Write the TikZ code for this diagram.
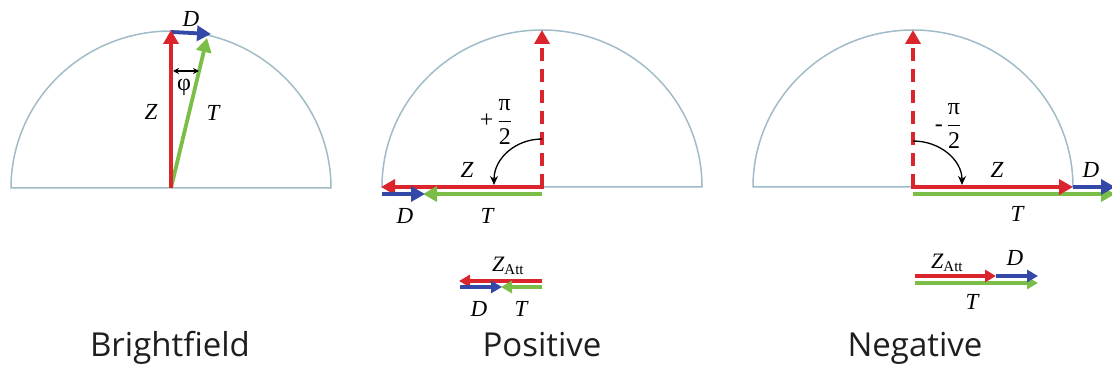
\documentclass[tikz,border=0pt]{standalone}
\usepackage{fontspec}
\usepackage{amsmath}
\setmainfont{Liberation Serif}
\newfontfamily\titlefont{Open Sans}
\usetikzlibrary{arrows.meta}
\definecolor{vred}{RGB}{218,37,45}
\definecolor{vgreen}{RGB}{122,190,72}
\definecolor{vblue}{RGB}{52,72,168}
\definecolor{circ}{RGB}{160,188,198}
\definecolor{ttl}{RGB}{30,30,30}
\newcommand{\pifrac}{\ensuremath{\dfrac{\text{\fontsize{24}{24}\selectfont π}}{\text{\fontsize{24}{24}\selectfont 2}}}}
\begin{document}
\begin{tikzpicture}[x=1pt,y=1pt,
 vec/.style={line width=3.8pt,-{Triangle[length=14pt,width=15pt]}},
 dvec/.style={vec,dash pattern=on 13pt off 8pt},
 svec/.style={line width=3.2pt,-{Triangle[length=11pt,width=12pt]}},
 circl/.style={draw=circ,line width=1.5pt},
 lab/.style={font=\fontsize{23}{23}\selectfont\itshape,inner sep=0pt},
 fr/.style={inner sep=0pt,font=\fontsize{24}{24}\selectfont},
 ttlstyle/.style={font=\titlefont\fontsize{33}{33}\selectfont,text=ttl,anchor=base,inner sep=0pt},
 rot/.style={black,line width=1.3pt,-{Stealth[length=9pt,width=8pt]}},
 phi/.style={black,line width=1.3pt,{Stealth[length=6pt,width=6pt]}-{Stealth[length=6pt,width=6pt]}}
]
\useasboundingbox (0,0) rectangle (1112,-371);

% ---------- Brightfield ----------
\coordinate (O1) at (171,-188);
\coordinate (L1) at (11,-188);
\draw[circl] (L1) arc[start angle=180,end angle=0,x radius=160pt,y radius=157pt] -- cycle;
\coordinate (Z1) at (171,-30);
\coordinate (Z1s) at (171,-32);
\coordinate (T1) at (207,-38);
\coordinate (D1) at (211,-34);
\draw[vec,vgreen] (O1) -- (T1);
\draw[vec,vblue] (Z1s) -- (D1);
\draw[vec,vred] (O1) -- (Z1);
\coordinate (p1) at (173,-71);
\coordinate (p2) at (199,-71);
\draw[phi] (p1) -- (p2);
\node[fr] (phil) at (184,-87) {φ};
\node[lab] (z1l) at (151,-112) {Z};
\node[lab] (t1l) at (213,-113) {T};
\node[lab] (d1l) at (191,-19) {D};
\node[ttlstyle] (t1) at (170,-357) {Brightfield};

% ---------- Positive ----------
\coordinate (O2) at (542,-187);
\coordinate (O2r) at (543.9,-187);
\coordinate (L2) at (382,-187);
\draw[circl] (L2) arc[start angle=180,end angle=0,x radius=160pt,y radius=157pt] -- cycle;
\coordinate (Z2up) at (542,-30);
\coordinate (Z2) at (381,-187);
\coordinate (G2s) at (542,-194);
\coordinate (G2) at (423,-194);
\coordinate (B2s) at (382,-194);
\coordinate (B2) at (425,-194);
\draw[dvec,vred] (O2) -- (Z2up);
\draw[vec,vred] (O2r) -- (Z2);
\draw[vec,vgreen] (G2s) -- (G2);
\draw[vec,vblue] (B2s) -- (B2);
\coordinate (r2a) at (542,-139);
\coordinate (r2b) at (494,-185);
\draw[rot] (r2a) .. controls (516,-139) and (494,-158) .. (r2b);
\node[fr] (pl2) at (496,-122) {+\,\pifrac};
\node[lab] (z2l) at (467,-170) {Z};
\node[lab] (d2l) at (405,-216) {D};
\node[lab] (t2l) at (487,-216) {T};
% small
\coordinate (sr2a) at (542,-281);
\coordinate (sr2b) at (459,-281);
\coordinate (sb2a) at (460,-287);
\coordinate (sb2b) at (502,-287);
\coordinate (sg2a) at (542,-287);
\coordinate (sg2b) at (501,-287);
\draw[svec,vred] (sr2a) -- (sr2b);
\draw[svec,vgreen] (sg2a) -- (sg2b);
\draw[svec,vblue] (sb2a) -- (sb2b);
\node[inner sep=0pt,anchor=base west] (za2) at (492,-272) {\fontsize{22}{22}\selectfont\itshape Z\fontsize{15}{15}\selectfont\upshape\raisebox{-3pt}{Att}};
\node[lab] (d2s) at (479,-309) {D};
\node[lab] (t2s) at (521,-309) {T};
\node[ttlstyle] (t2) at (542,-357) {Positive};

% ---------- Negative ----------
\coordinate (O3) at (913,-187);
\coordinate (O3l) at (911.1,-187);
\coordinate (L3) at (753,-187);
\draw[circl] (L3) arc[start angle=180,end angle=0,x radius=160pt,y radius=157pt] -- cycle;
\coordinate (Z3up) at (913,-30);
\coordinate (Z3) at (1073,-187);
\coordinate (B3) at (1115,-187);
\coordinate (G3s) at (913,-194);
\coordinate (G3) at (1115,-194);
\draw[dvec,vred] (O3) -- (Z3up);
\draw[vec,vgreen] (G3s) -- (G3);
\draw[vec,vblue] (Z3) -- (B3);
\draw[vec,vred] (O3l) -- (Z3);
\coordinate (r3a) at (913,-141);
\coordinate (r3b) at (962,-185);
\draw[rot] (r3a) .. controls (940,-141) and (962,-160) .. (r3b);
\node[fr] (pl3) at (948,-126) {-\,\pifrac};
\node[lab] (z3l) at (997,-170) {Z};
\node[lab] (d3l) at (1091,-170) {D};
\node[lab] (t3l) at (1017,-214) {T};
% small
\coordinate (sr3a) at (915,-276);
\coordinate (sr3b) at (996,-276);
\coordinate (sb3b) at (1038,-276);
\coordinate (sg3a) at (915,-283);
\coordinate (sg3b) at (1038,-283);
\draw[svec,vgreen] (sg3a) -- (sg3b);
\draw[svec,vblue] (sr3b) -- (sb3b);
\draw[svec,vred] (sr3a) -- (sr3b);
\node[inner sep=0pt,anchor=base west] (za3) at (931,-269) {\fontsize{22}{22}\selectfont\itshape Z\fontsize{15}{15}\selectfont\upshape\raisebox{-3pt}{Att}};
\node[lab] (d3s) at (1015,-258) {D};
\node[lab] (t3s) at (972,-302) {T};
\node[ttlstyle] (t3) at (915,-357) {Negative};
\end{tikzpicture}
\end{document}
